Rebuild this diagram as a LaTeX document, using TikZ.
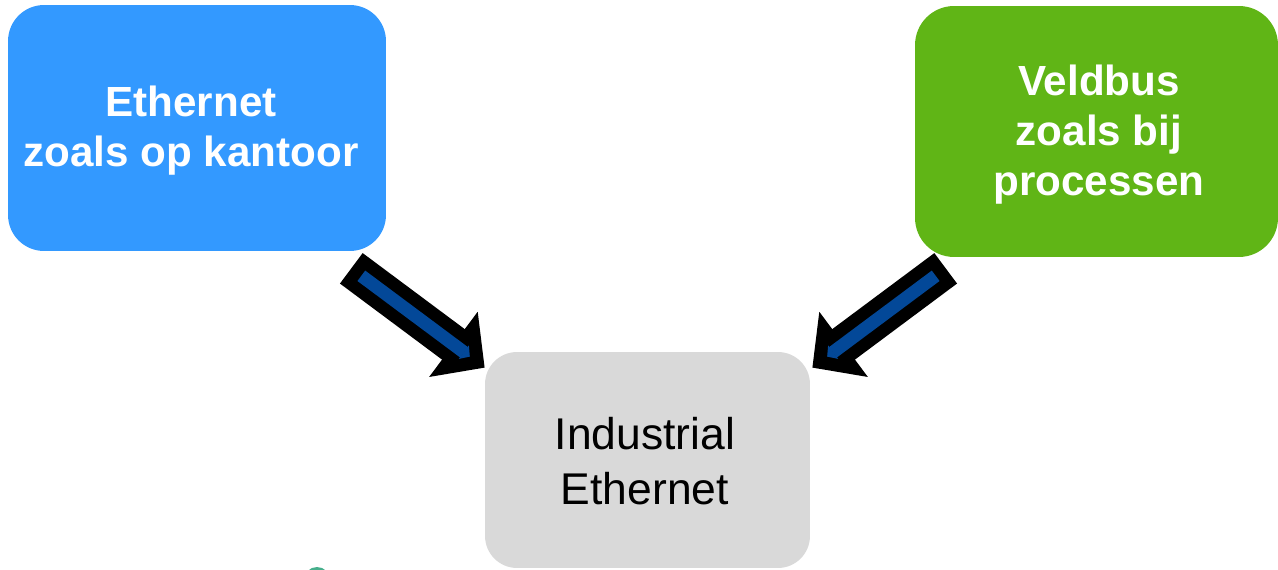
\documentclass[tikz,border=0pt]{standalone}
\usepackage{fontspec}
\setmainfont{Liberation Sans}
\usetikzlibrary{arrows.meta,calc}

\definecolor{officeblue}{RGB}{51,153,255}
\definecolor{fieldgreen}{RGB}{96,181,22}
\definecolor{coregray}{RGB}{217,217,217}
\definecolor{arrowblue}{RGB}{3,72,152}
\definecolor{tealbit}{RGB}{70,175,140}

\begin{document}
\begin{tikzpicture}[x=0.02cm,y=-0.02cm,
  box/.style={rectangle, draw=none, inner sep=0pt},
  headtext/.style={text=white, align=center, inner sep=0pt,
    font=\fontsize{24}{28.35}\selectfont\bfseries},
  coretext/.style={text=black, align=center, inner sep=0pt,
    font=\fontsize{25.3}{31.2}\selectfont},
  blockouter/.style={line width=0.76cm, draw=black,
    -{Triangle[length=0.78cm,width=1.58cm]}},
  blockinner/.style={line width=0.26cm, draw=arrowblue,
    shorten <=0.25cm, shorten >=0.37cm,
    -{Triangle[length=0.15cm,width=0.33cm]}}]

  % canvas
  \clip (0,0) rectangle (1278,570);

  % three boxes
  \node[box, fill=officeblue, minimum width=7.56cm, minimum height=4.92cm,
        rounded corners=0.72cm] (office) at (197,128) {};
  \node[box, fill=fieldgreen, minimum width=7.26cm, minimum height=5.02cm,
        rounded corners=0.78cm] (field) at (1096.5,131.5) {};
  \node[box, fill=coregray, minimum width=6.5cm, minimum height=4.32cm,
        rounded corners=0.64cm] (core) at (647.5,460) {};

  % labels
  \node[headtext] (officetext) at (191,131) {Ethernet\\zoals op kantoor};
  \node[headtext] (fieldtext) at (1099,134.5) {Veldbus\\zoals bij\\processen};
  \node[coretext] (coretextlabel) at (645,461.5) {Industrial\\Ethernet};

  % block arrows into the middle box
  \coordinate (ltail) at ($(office.south east)+(-35,17)$);
  \coordinate (ltip)  at ($(core.north west)+(0,16)$);
  \coordinate (rtail) at ($(field.south west)+(31,11)$);
  \coordinate (rtip)  at ($(core.north east)+(2,16)$);

  \draw[blockouter] (ltail) -- (ltip);
  \draw[blockinner] (ltail) -- (ltip);
  \draw[blockouter] (rtail) -- (rtip);
  \draw[blockinner] (rtail) -- (rtip);

  % small shape peeking in at the lower edge
  \fill[tealbit] (317,580) circle (13);
\end{tikzpicture}
\end{document}
